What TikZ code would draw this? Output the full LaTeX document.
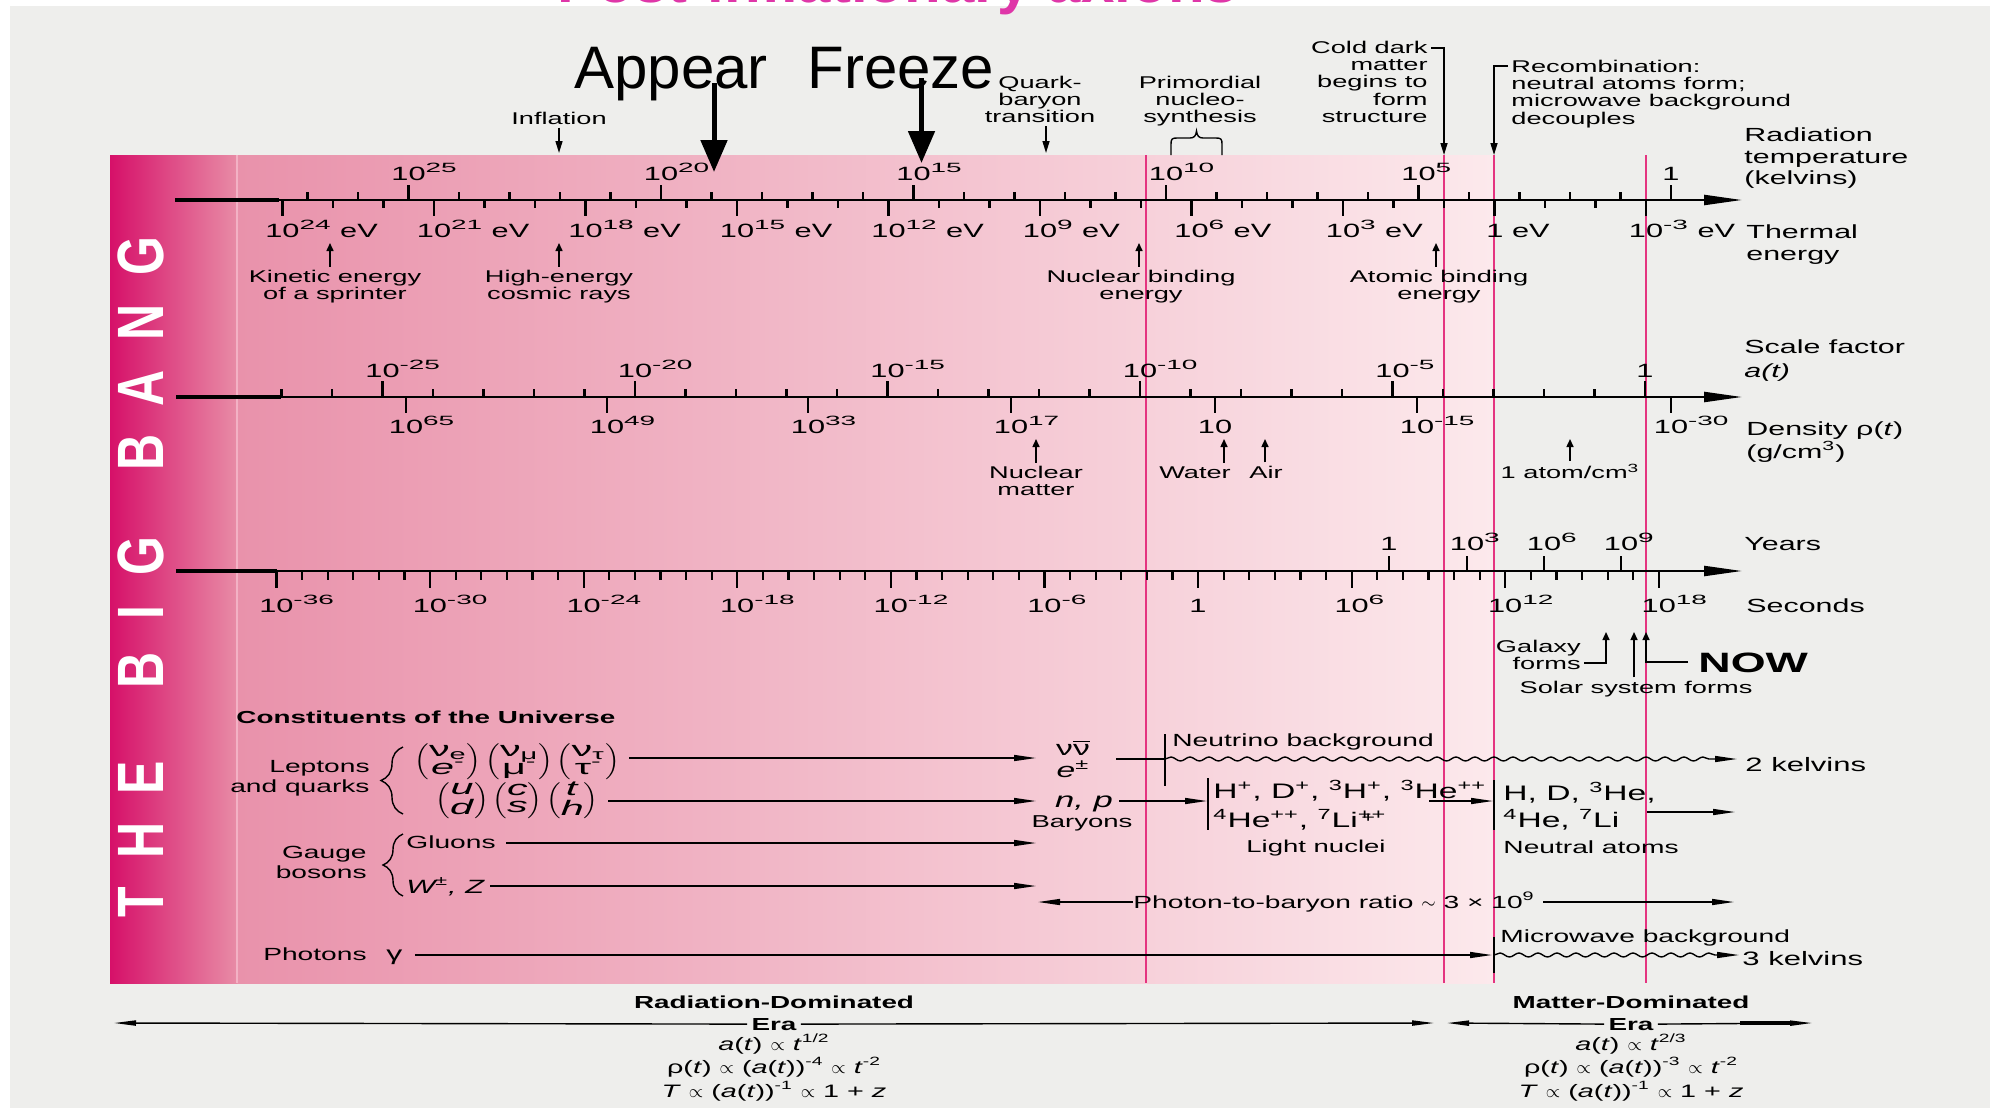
\documentclass[tikz,border=0pt]{standalone}
\usepackage{fontspec}
\setmainfont{Liberation Sans}[FakeStretch=1.6]
\newfontfamily\plainsans{Liberation Sans}
\usetikzlibrary{arrows.meta,decorations.pathmorphing,decorations.pathreplacing}
\definecolor{bggray}{RGB}{238,238,236}
\definecolor{maglin}{RGB}{228,52,128}
\definecolor{stripL}{RGB}{214,16,105}
\definecolor{stripR}{RGB}{232,140,166}
\definecolor{panL}{RGB}{233,146,171}
\definecolor{panR}{RGB}{252,233,236}
\definecolor{edgepink}{RGB}{243,178,197}
\definecolor{titlemag}{RGB}{223,54,168}
\newcommand\sps[1]{\textsuperscript{\scalebox{1.3}[1]{#1}}}
\newcommand\tk[1]{\llap{1}\rlap{0\sps{#1}}}
\newcommand\tke[1]{\llap{1}\rlap{0\sps{#1} eV}}
\newcommand\cv[2]{\ensuremath{\left(\vcenter{\hbox{\fontsize{10.5}{8.5}\selectfont\begin{tabular}{@{}c@{}}#1\\#2\end{tabular}}}\right)}}
\tikzset{
  tick/.style={line width=1.1pt},
  axisarr/.style={line width=1.1pt,-{Triangle[length=19pt,width=5pt]}},
  thickseg/.style={line width=1.8pt},
  num/.style={font={\fontsize{9.6}{10}\selectfont},inner sep=0pt,anchor=base},
  lbl/.style={font={\fontsize{8.5}{8.6}\selectfont},inner sep=1.5pt,align=center},
  side/.style={font={\fontsize{9.5}{10.75}\selectfont},inner sep=0pt,align=left,anchor=north west},
  ptr/.style={line width=0.75pt,-{Triangle[length=4pt,width=3.5pt]}},
  ptrb/.style={line width=0.75pt,-{Triangle[length=6pt,width=3.5pt]}},
  carr/.style={line width=0.7pt,-{Triangle[length=11pt,width=3pt]}},
  wavy/.style={line width=0.7pt,decorate,decoration={snake,amplitude=1pt,segment length=9.5pt,post length=12pt}},
  cst/.style={font={\fontsize{8.8}{10}\selectfont},inner sep=0pt},
  magline/.style={draw=maglin,line width=0.8pt},
  bigarr/.style={line width=2.5pt,-{Triangle[length=16pt,width=13pt]}},
  bbl/.style={rotate=90,text=white,inner sep=0pt,font={\plainsans\bfseries\fontsize{25}{25}\selectfont}},
  eraarr/.style={line width=0.7pt,-{Triangle[length=11pt,width=2.6pt]}},
  form/.style={font={\fontsize{9}{10}\selectfont},inner sep=0pt,anchor=base},
  bar/.style={line width=0.7pt},
}
\begin{document}
\begin{tikzpicture}[x=0.5pt,y=-0.5pt]
% background
\fill[white] (0,0) rectangle (1990,1119);
\fill[bggray] (10,6) rectangle (1990,1108);
\useasboundingbox (0,0) rectangle (1990,1119);
\node[font={\plainsans\bfseries\fontsize{30}{30}\selectfont},text=titlemag,anchor=base,inner sep=0pt] (title) at (898,3) {Post-inflationary axions};
% panel
\shade[left color=stripL,right color=stripR] (110,155) rectangle (237,983);
\shade[left color=panL,right color=panR] (237,155) rectangle (1494,983);
\draw[edgepink,line width=0.6pt] (237,155) -- (237,983);
\foreach \x in {1146,1444,1494,1646} \draw[magline] (\x,155) -- (\x,983);
% THE BIG BANG
\foreach \L/\yy [count=\i] in {T/902,H/840,E/778,B/670,I/613,G/556,B/452,A/388,N/322,G/256}
  \node[bbl] (bb\i) at (141,\yy) {\scalebox{1}[1.31]{\L}};
% ---------- axis 1 ----------
\draw[thickseg] (175,200) -- (279,200);
\draw[axisarr] (277,200) -- (1742,200);
\foreach \n in {0,...,27}{
  \pgfmathtruncatemacro\m{mod(\n,5)}
  \pgfmathsetmacro\xx{1671-50.5*\n}
  \ifnum\m=0 \draw[tick] (\xx,200) -- (\xx,185); \else \draw[tick] (\xx,200) -- (\xx,192); \fi
}
\foreach \n in {-3,...,24}{
  \pgfmathtruncatemacro\m{abs(mod(\n,3))}
  \pgfmathsetmacro\xx{1494.5-50.5*\n}
  \ifnum\m=0 \draw[tick] (\xx,200) -- (\xx,216); \else \draw[tick] (\xx,200) -- (\xx,208); \fi
}
\foreach \x/\e in {408.5/25,661/20,913.5/15,1166/10,1418.5/5}
  \node[num] (K\e) at (\x,180) {\tk{\e}};
\node[num] (K0) at (1671,180) {1};
\foreach \x/\e in {282.5/24,434/21,585.5/18,737/15,888.5/12,1040/9,1191.5/6,1343/3,1646/-3}
  \node[num] (E\e) at (\x,237) {\tke{\e}};
\node[num,anchor=base west] (E0) at (1486,237) {1 eV};
\node[side] (radtemp) at (1744,127.4) {Radiation\\temperature\\(kelvins)};
\node[side,font={\fontsize{9.5}{11}\selectfont}] (thermal) at (1746,224.4) {Thermal\\energy};
% ---------- axis 2 ----------
\draw[thickseg] (176,397) -- (281,397);
\draw[axisarr] (279,397) -- (1742,397);
\foreach \n in {0,...,27}{
  \pgfmathtruncatemacro\m{mod(\n,5)}
  \pgfmathsetmacro\xx{1645-50.5*\n}
  \ifnum\m=0 \draw[tick] (\xx,397) -- (\xx,381); \else \draw[tick] (\xx,397) -- (\xx,389); \fi
}
\foreach \x in {406,607,808,1011,1215,1417,1671} \draw[tick] (\x,397) -- (\x,413);
\foreach \x/\e in {382.5/-25,635/-20,887.5/-15,1140/-10,1392.5/-5}
  \node[num] (A\e) at (\x,377) {\tk{\e}};
\node[num] (A0) at (1645,377) {1};
\foreach \x/\e in {406/65,607/49,808/33,1011/17,1417/-15,1671/-30}
  \node[num] (D\e) at (\x,433) {\tk{\e}};
\node[num] (D1) at (1215,433) {10};
\node[side,font={\fontsize{9.5}{12}\selectfont}] (scalef) at (1744,339.4) {Scale factor\\\textit{a(t)}};
\node[side,font={\fontsize{9.5}{10}\selectfont}] (dens) at (1746,421.4) {Density ρ(\textit{t})\\(g/cm\textsuperscript{3})};
% ---------- axis 3 ----------
\draw[thickseg] (176,571) -- (277,571);
\draw[axisarr] (275,571) -- (1742,571);
\foreach \n in {0,...,54}{
  \pgfmathtruncatemacro\m{mod(\n,6)}
  \pgfmathsetmacro\xx{276.4+25.6*\n}
  \ifnum\m=0 \draw[tick] (\xx,571) -- (\xx,588); \else \draw[tick] (\xx,571) -- (\xx,580); \fi
}
\foreach \x in {1389,1467,1544,1621} \draw[tick] (\x,571) -- (\x,556);
\foreach \x/\e in {276.4/-36,429.9/-30,583.6/-24,737.2/-18,890.8/-12,1044.4/-6,1351.6/6,1505.2/12,1658.8/18}
  \node[num] (S\e) at (\x,612) {\tk{\e}};
\node[num] (S0) at (1198,612) {1};
\node[num] (Y0) at (1389,550) {1};
\foreach \x/\e in {1467/3,1544/6,1621/9}
  \node[num] (Y\e) at (\x,550) {\tk{\e}};
\node[side,anchor=base west] (years) at (1744,550) {Years};
\node[side,anchor=base west] (seconds) at (1746,612) {Seconds};
% ---------- top labels ----------
\node[lbl,anchor=base] (infl) at (559,124) {Inflation};
\coordinate (inflT) at (559,153);
\draw[ptrb] (infl.south) -- (inflT);
\node[lbl,anchor=north] (quark) at (1040,72.7) {Quark-\\baryon\\transition};
\coordinate (quarkT) at (1046,153);
\draw[ptrb] (quarkT |- quark.south) -- (quarkT);
\node[lbl,anchor=north] (primo) at (1200,72.7) {Primordial\\nucleo-\\synthesis};
\draw[line width=0.7pt] (1171,155) -- (1171,144) .. controls (1171,139) and (1172,138) .. (1177,138) -- (1190,138) .. controls (1194,138) and (1196,136) .. (1196.5,131) .. controls (1197,136) and (1199,138) .. (1203,138) -- (1216,138) .. controls (1221,138) and (1222,139) .. (1222,144) -- (1222,155);
\node[lbl,align=right,anchor=north east] (cdm) at (1431,37.7) {Cold dark\\matter\\begins to\\form\\structure};
\coordinate (cdmK) at (1444,48);
\coordinate (cdmT) at (1444,155);
\draw[ptrb] (cdm.north east |- cdmK) -- (cdmK) -- (cdmT);
\node[lbl,align=left,anchor=north west] (rec) at (1508,56.7) {Recombination:\\neutral atoms form;\\microwave background\\decouples};
\coordinate (recK) at (1494,66);
\coordinate (recT) at (1494,155);
\draw[ptrb] (rec.north west |- recK) -- (recK) -- (recT);
% ---------- below axis 1 ----------
\node[lbl,anchor=north] (kin) at (335,266.7) {Kinetic energy\\of a sprinter};
\coordinate (kinT) at (330,243);
\draw[ptr] (kinT |- kin.north) -- (kinT);
\node[lbl,anchor=north] (high) at (559,266.7) {High-energy\\cosmic rays};
\coordinate (highT) at (559,243);
\draw[ptr] (highT |- high.north) -- (highT);
\node[lbl,anchor=north] (nucb) at (1141,266.7) {Nuclear binding\\energy};
\coordinate (nucbT) at (1139,243);
\draw[ptr] (nucbT |- nucb.north) -- (nucbT);
\node[lbl,anchor=north] (atomb) at (1439,266.7) {Atomic binding\\energy};
\coordinate (atombT) at (1436,243);
\draw[ptr] (atombT |- atomb.north) -- (atombT);
% ---------- below axis 2 ----------
\node[lbl,anchor=north] (nucm) at (1036,462.7) {Nuclear\\matter};
\coordinate (nucmT) at (1036,439);
\draw[ptr] (nucm.north) -- (nucmT);
\node[lbl,anchor=base] (water) at (1195,478) {Water};
\coordinate (waterT) at (1224,439);
\draw[ptr] (waterT |- water.north) -- (waterT);
\node[lbl,anchor=base] (air) at (1266,478) {Air};
\coordinate (airT) at (1265,439);
\draw[ptr] (airT |- air.north) -- (airT);
\node[lbl,anchor=base] (atomcm) at (1570,478) {1 atom/cm\textsuperscript{3}};
\coordinate (atomcmT) at (1570,439);
\draw[ptr] (atomcmT |- atomcm.north) -- (atomcmT);
% ---------- below axis 3 ----------
\node[lbl,align=right,anchor=north east] (galaxy) at (1584,636.7) {Galaxy\\forms};
\coordinate (galK) at (1606,663);
\coordinate (galT) at (1606,632);
\draw[ptr] (galaxy.east |- galK) -- (galK) -- (galT);
\node[lbl,anchor=base] (solar) at (1636,693) {Solar system forms};
\coordinate (solarT) at (1634,632);
\draw[ptr] (solarT |- solar.north) -- (solarT);
\node[font={\bfseries\fontsize{14}{14}\selectfont},inner sep=0pt,anchor=base west] (now) at (1698,672) {NOW};
\coordinate (nowK) at (1646,662);
\coordinate (nowT) at (1646,632);
\draw[ptr] ([xshift=-5pt]now.west |- nowK) -- (nowK) -- (nowT);
% ---------- constituents ----------
\node[cst,font={\bfseries\fontsize{8.7}{10}\selectfont},anchor=base west] (constit) at (236,723) {Constituents of the Universe};
\node[cst,align=right,anchor=north east] (lepq) at (370,759.7) {Leptons\\and quarks};
\draw[bar,decorate,decoration={brace,amplitude=11pt}] (403,814) -- (403,747);
\node[inner sep=0pt] (leprow) at (517,762) {\scalebox{1.23}[1]{\cv{ν\textsubscript{e}}{\textit{e}\textsuperscript{-}}\kern1.5pt\cv{ν\textsubscript{μ}}{μ\textsuperscript{-}}\kern1.5pt\cv{ν\textsubscript{τ}}{τ\textsuperscript{-}}}};
\node[inner sep=0pt] (qrow) at (517,801) {\scalebox{1.23}[1]{\cv{\textit{u}}{\textit{d}}\kern1.5pt\cv{\textit{c}}{\textit{s}}\kern1.5pt\cv{\textit{t}}{\textit{h}}}};
\node[cst,align=right,anchor=north east] (gauge) at (367,845.7) {Gauge\\bosons};
\draw[bar,decorate,decoration={brace,amplitude=10pt}] (403,896) -- (403,834);
\node[cst,anchor=base west] (gluons) at (406,848) {Gluons};
\node[cst,font={\itshape\fontsize{9.6}{10}\selectfont},anchor=base west] (wz) at (406,893) {W\textsuperscript{±}, Z};
\node[cst,anchor=base east] (photons) at (367,960) {Photons};
\node[cst,font={\fontsize{10}{10}\selectfont},anchor=base west] (gamma) at (386,960) {γ};
\node[cst,font={\fontsize{10.5}{10}\selectfont},anchor=base] (nunu) at (1073,755) {ν$\overline{\hbox{ν}}$};
\node[cst,font={\itshape\fontsize{10.5}{10}\selectfont},anchor=base] (epm) at (1073,777) {e\textsuperscript{±}};
\node[cst,font={\itshape\fontsize{10.8}{10}\selectfont},anchor=base] (np) at (1084,807) {n, p};
\node[cst,font={\fontsize{8.6}{10}\selectfont},anchor=base] (baryons) at (1082,827) {Baryons};
\coordinate (lepT) at (1036,758);
\coordinate (qT) at (1036,801);
\coordinate (gT) at (1036,843);
\coordinate (wT) at (1036,886);
\coordinate (phT) at (1492,955);
\draw[carr,shorten <=4.5pt] (leprow.east |- lepT) -- (lepT);
\draw[carr,shorten <=4.5pt] (qrow.east |- qT) -- (qT);
\draw[carr,shorten <=5pt] (gluons.east |- gT) -- (gT);
\draw[carr,shorten <=3pt] (wz.east |- wT) -- (wT);
\draw[carr,shorten <=6pt] (gamma.east |- phT) -- (phT);
% neutrino background
\coordinate (nbar) at (1165,759);
\draw[bar,shorten <=13pt] (nunu.east |- nbar) -- (nbar);
\draw[bar] (1165,734) -- (1165,786);
\coordinate (nuEnd) at (1737,759);
\draw[wavy,-{Triangle[length=11pt,width=3pt]}] (nbar) -- (nuEnd);
\node[cst,anchor=base west] (nuback) at (1172,746) {Neutrino background};
\node[cst,font={\fontsize{9.7}{10}\selectfont},anchor=base west] (twok) at (1745,771) {2 kelvins};
% light nuclei
\coordinate (nlT) at (1207,801);
\draw[carr,shorten <=3pt] (np.east |- nlT) -- (nlT);
\draw[bar] (1208,778) -- (1208,830);
\node[cst,font={\fontsize{10.5}{10}\selectfont},anchor=base west] (nuc1) at (1213,798) {H\textsuperscript{+}, D\textsuperscript{+}, \textsuperscript{3}H\textsuperscript{+}, \textsuperscript{3}He\textsuperscript{++}};
\node[cst,font={\fontsize{10.5}{10}\selectfont},anchor=base west] (nuc2) at (1213,827) {\textsuperscript{4}He\textsuperscript{++}, \textsuperscript{7}Li\textsuperscript{\rlap{\raisebox{-0.5ex}{\kern0.25em+}}++}};
\node[cst,font={\fontsize{8.6}{10}\selectfont},anchor=base] (lightn) at (1316,852) {Light nuclei};
\coordinate (naS) at (1429,801);
\coordinate (naT) at (1493,801);
\draw[carr] (naS) -- (naT);
\draw[bar] (1494,780) -- (1494,830);
\node[cst,font={\fontsize{10.5}{10}\selectfont},anchor=base west] (at1) at (1503,800) {H, D, \textsuperscript{3}He,};
\node[cst,font={\fontsize{10.5}{10}\selectfont},anchor=base west] (at2) at (1503,827) {\textsuperscript{4}He, \textsuperscript{7}Li};
\node[cst,anchor=base west] (neutat) at (1503,853) {Neutral atoms};
\coordinate (aS) at (1647,812);
\coordinate (aT) at (1735,812);
\draw[carr] (aS) -- (aT);
% photon-to-baryon
\node[cst,anchor=base west] (ratio) at (1133,908) {Photon-to-baryon ratio $\sim$ 3 × 10\textsuperscript{9}};
\coordinate (rL) at (1038,902);
\coordinate (rR) at (1734,902);
\draw[carr] (ratio.west |- rL) -- (rL);
\draw[carr,shorten <=4pt] (ratio.east |- rR) -- (rR);
% microwave
\node[cst,anchor=base west] (micro) at (1500,942) {Microwave background};
\draw[bar] (1494,937) -- (1494,973);
\coordinate (mwS) at (1494,955);
\coordinate (mwE) at (1739,955);
\draw[wavy,-{Triangle[length=11pt,width=3pt]}] (mwS) -- (mwE);
\node[cst,font={\fontsize{9.7}{10}\selectfont},anchor=base west] (threek) at (1742,965) {3 kelvins};
% ---------- bottom eras ----------
\node[font={\bfseries\fontsize{8.7}{10}\selectfont},inner sep=0pt,anchor=base] (raddom) at (774,1008) {Radiation-Dominated};
\node[font={\bfseries\fontsize{8.7}{10}\selectfont},inner sep=2pt,anchor=base] (radera) at (774,1030) {Era};
\coordinate (eraL1) at (114,1023);
\coordinate (eraR1) at (1434,1023);
\draw[eraarr] (radera.west) -- (eraL1);
\draw[eraarr] (radera.east) -- (eraR1);
\node[form] (rf1) at (774,1050) {\textit{a}(\textit{t}) $\propto$ \textit{t}\textsuperscript{1/2}};
\node[form] (rf2) at (774,1073) {ρ(\textit{t}) $\propto$ (\textit{a}(\textit{t}))\textsuperscript{-4} $\propto$ \textit{t}\textsuperscript{-2}};
\node[form] (rf3) at (774,1097) {\textit{T} $\propto$ (\textit{a}(\textit{t}))\textsuperscript{-1} $\propto$ 1 + \textit{z}};
\node[font={\bfseries\fontsize{8.7}{10}\selectfont},inner sep=0pt,anchor=base] (matdom) at (1631,1008) {Matter-Dominated};
\node[font={\bfseries\fontsize{8.7}{10}\selectfont},inner sep=2pt,anchor=base] (matera) at (1631,1030) {Era};
\coordinate (eraL2) at (1447,1023);
\coordinate (eraR2) at (1812,1023);
\coordinate (eraK2) at (1740,1023);
\draw[eraarr] (matera.west) -- (eraL2);
\draw[eraarr] (matera.east) -- (eraR2);
\draw[line width=1.6pt] (eraK2) -- (1795,1023);
\node[form] (mf1) at (1631,1050) {\textit{a}(\textit{t}) $\propto$ \textit{t}\textsuperscript{2/3}};
\node[form] (mf2) at (1631,1073) {ρ(\textit{t}) $\propto$ (\textit{a}(\textit{t}))\textsuperscript{-3} $\propto$ \textit{t}\textsuperscript{-2}};
\node[form] (mf3) at (1631,1097) {\textit{T} $\propto$ (\textit{a}(\textit{t}))\textsuperscript{-1} $\propto$ 1 + \textit{z}};
% ---------- Appear / Freeze ----------
\node[font={\plainsans\fontsize{30}{30}\selectfont},anchor=base west,inner sep=0pt] (appear) at (574,88) {Appear};
\node[font={\plainsans\fontsize{30}{30}\selectfont},anchor=base west,inner sep=0pt] (freeze) at (807,88) {Freeze};
\coordinate (apS) at (714,83);
\coordinate (apT) at (714,172);
\coordinate (frS) at (921.5,78);
\coordinate (frT) at (921.5,163);
\draw[bigarr] (apS) -- (apT);
\draw[bigarr] (frS) -- (frT);
\end{tikzpicture}
\end{document}
